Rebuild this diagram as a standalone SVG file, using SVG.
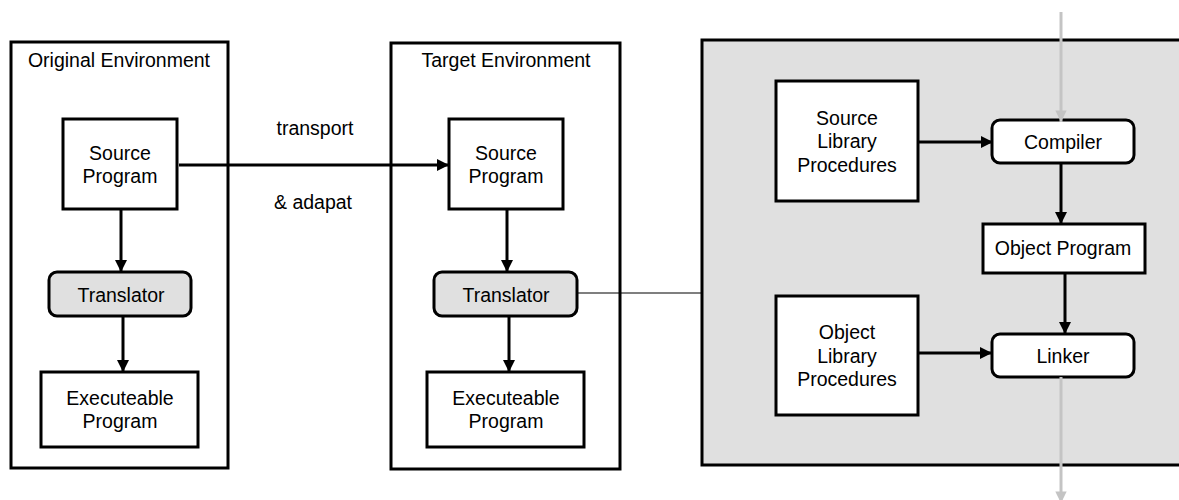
<svg xmlns="http://www.w3.org/2000/svg" width="1179" height="500" viewBox="0 0 1179 500">
<defs>
<style>
text{font-family:"Liberation Sans",Arial,sans-serif;font-size:19.5px;fill:#000;text-anchor:middle}
.box{fill:#fff;stroke:#000;stroke-width:3}
.rbox{fill:#fff;stroke:#000;stroke-width:3}
.env{fill:#fff;stroke:#000;stroke-width:3}
.conn{fill:none;stroke:#000;stroke-width:3}
.thin{fill:none;stroke:#000;stroke-width:1.2}
.gconn{fill:none;stroke:#c4c4c4;stroke-width:3}
</style>
<marker id="ah" viewBox="0 0 10 10" refX="10" refY="5" markerWidth="4.3" markerHeight="4" orient="auto" markerUnits="strokeWidth">
<path d="M0,0 L10,5 L0,10 z" fill="#000"/>
</marker>
<marker id="gh" viewBox="0 0 10 10" refX="10" refY="5" markerWidth="4.3" markerHeight="3.8" orient="auto" markerUnits="strokeWidth">
<path d="M0,0 L10,5 L0,10 z" fill="#c4c4c4"/>
</marker>
</defs>
<rect width="1179" height="500" fill="#fff"/>
<g id="original-env">
<rect class="env" x="11" y="42" width="217" height="426"/>
<text x="119" y="67">Original Environment</text>
</g>
<g id="target-env">
<rect class="env" x="391" y="43" width="229" height="426"/>
<text x="506" y="67">Target Environment</text>
</g>
<g id="compile-env">
<rect x="702" y="40" width="500" height="425" fill="#e0e0e0" stroke="#000" stroke-width="3"/>
</g>
<g id="src-orig">
<rect class="box" x="63" y="119" width="114" height="90"/>
<text x="120" y="160">Source</text>
<text x="120" y="183">Program</text>
</g>
<g id="trans-orig">
<rect class="rbox" x="49" y="272" width="142" height="44" rx="8" style="fill:#e0e0e0"/>
<text x="121" y="302">Translator</text>
</g>
<g id="exec-orig">
<rect class="box" x="41" y="372" width="157" height="75"/>
<text x="120" y="405">Executeable</text>
<text x="120" y="428">Program</text>
</g>
<g id="src-target">
<rect class="box" x="449" y="119" width="114" height="90"/>
<text x="506" y="160">Source</text>
<text x="506" y="183">Program</text>
</g>
<g id="trans-target">
<rect class="rbox" x="434" y="272" width="143" height="44" rx="8" style="fill:#e0e0e0"/>
<text x="506" y="302">Translator</text>
</g>
<g id="exec-target">
<rect class="box" x="427" y="372" width="157" height="75"/>
<text x="506" y="405">Executeable</text>
<text x="506" y="428">Program</text>
</g>
<g id="src-lib">
<rect class="box" x="776" y="81" width="142" height="120"/>
<text x="847" y="125">Source</text>
<text x="847" y="148">Library</text>
<text x="847" y="172">Procedures</text>
</g>
<g id="compiler">
<rect class="rbox" x="992" y="120" width="142" height="43" rx="8"/>
<text x="1063" y="149">Compiler</text>
</g>
<g id="obj-prog">
<rect class="box" x="983" y="224" width="162" height="49"/>
<text x="1063" y="255">Object Program</text>
</g>
<g id="obj-lib">
<rect class="box" x="776" y="296" width="142" height="119"/>
<text x="847" y="339">Object</text>
<text x="847" y="363">Library</text>
<text x="847" y="386">Procedures</text>
</g>
<g id="linker">
<rect class="rbox" x="992" y="334" width="142" height="43" rx="8"/>
<text x="1063" y="363">Linker</text>
</g>
<g id="connectors">
<line class="conn" x1="179" y1="165" x2="449" y2="165" marker-end="url(#ah)"/>
<line class="conn" x1="121" y1="209" x2="121" y2="272" marker-end="url(#ah)"/>
<line class="conn" x1="123" y1="316" x2="123" y2="372" marker-end="url(#ah)"/>
<line class="conn" x1="507" y1="209" x2="507" y2="272" marker-end="url(#ah)"/>
<line class="conn" x1="509" y1="316" x2="509" y2="372" marker-end="url(#ah)"/>
<line class="thin" x1="577" y1="293" x2="702" y2="293"/>
<line class="conn" x1="918" y1="142" x2="993" y2="142" marker-end="url(#ah)"/>
<line class="conn" x1="1061" y1="163" x2="1061" y2="224" marker-end="url(#ah)"/>
<line class="conn" x1="1065" y1="273" x2="1065" y2="334" marker-end="url(#ah)"/>
<line class="conn" x1="918" y1="353" x2="992" y2="353" marker-end="url(#ah)"/>
<line class="gconn" x1="1061" y1="12" x2="1061" y2="122" marker-end="url(#gh)"/>
<line class="gconn" x1="1061" y1="377" x2="1061" y2="503" marker-end="url(#gh)"/>
</g>
<g id="labels">
<text x="315" y="135">transport</text>
<text x="313" y="209">&amp; adapat</text>
</g>
</svg>
